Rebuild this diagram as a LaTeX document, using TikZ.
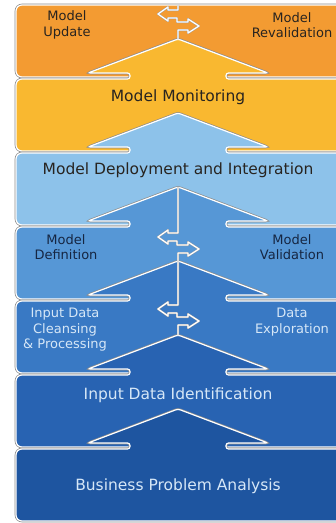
\documentclass[tikz,border=0pt]{standalone}
\usepackage{fontspec}
\setmainfont{DejaVu Sans}
\definecolor{orangeS}{RGB}{243,155,50}
\definecolor{yellowS}{RGB}{249,184,48}
\definecolor{lblueS}{RGB}{141,194,234}
\definecolor{mblueS}{RGB}{86,151,214}
\definecolor{blueC}{RGB}{57,121,196}
\definecolor{blueI}{RGB}{40,99,178}
\definecolor{blueB}{RGB}{30,85,160}
\definecolor{darkT}{RGB}{40,36,32}
\definecolor{navyT}{RGB}{22,38,66}
\definecolor{paleT}{RGB}{214,231,247}

\begin{document}
\begin{tikzpicture}[x=1pt,y=-1pt,
 stage/.style={draw=white,line width=1.2pt,preaction={draw=black!45,line width=2.6pt}},
 big/.style={font=\fontsize{15.5}{18}\selectfont,text=darkT},
 small/.style={font=\fontsize{13}{15.5}\selectfont,align=center,text=darkT},
 cut/.style={draw=black!40,double=white,double distance=1.3pt,line width=0.35pt,line join=round},
 exchange/.style={insert path={-- ++(-10,0) -- ++(0,-3) -- ++(-10,7) -- ++(10,7) -- ++(0,-3)
   -- ++(9,0) -- ++(0,4) -- ++(11,0) -- ++(0,-3) -- ++(11,7) -- ++(-11,7) -- ++(0,-3) -- ++(-10,0)}}]
\useasboundingbox (0,0) rectangle (336,523);
\clip (0,0) rectangle (336,523);
\fill[white] (0,0) rectangle (336,523);
% top stage has no tab
\path[stage,fill=orangeS,rounded corners=6pt] (16,5) rectangle (350,77);
% each lower stage pushes an arrow tab up into the one above
\foreach \t/\c in {79/yellowS,153/lblueS,227/mblueS,301/blueC,375/blueI,449/blueB}{
 \begin{scope}[shift={(0,\t)}]
 \path[stage,fill=\c] (16,36) [rounded corners=6pt] -- (16,0) -- (60,0)
  [rounded corners=2.5pt] -- (130,0) -- (130,-6) -- (88,-6) -- (178,-40) -- (268,-6)
  -- (226,-6) -- (226,0) -- (300,0) [rounded corners=6pt] -- (350,0) -- (350,72) -- (16,72) -- cycle;
 \end{scope}
}
% split lines with the exchange marks
\draw[cut] (178,5) -- (178,10) [exchange] -- (178,39);
\draw[cut] (178,187) -- (178,233) [exchange] -- (178,305) [exchange] -- (178,335);

\node[small] (update) at (67,25) {Model\\Update};
\node[small] (revalid) at (292,25) {Model\\Revalidation};
\node[big] (monitor) at (178,97) {Model Monitoring};
\node[big] (deploy) at (178,170) {Model Deployment and Integration};
\node[small,text=navyT] (definition) at (66,247) {Model\\Definition};
\node[small,text=navyT] (validation) at (292,247) {Model\\Validation};
\node[small,text=paleT] (cleansing) at (65,330) {Input Data\\Cleansing\\\& Processing};
\node[small,text=paleT] (explore) at (292,322) {Data\\Exploration};
\node[big,text=paleT] (identify) at (178,395) {Input Data Identification};
\node[big,text=paleT] (business) at (178,486) {Business Problem Analysis};
\end{tikzpicture}
\end{document}
